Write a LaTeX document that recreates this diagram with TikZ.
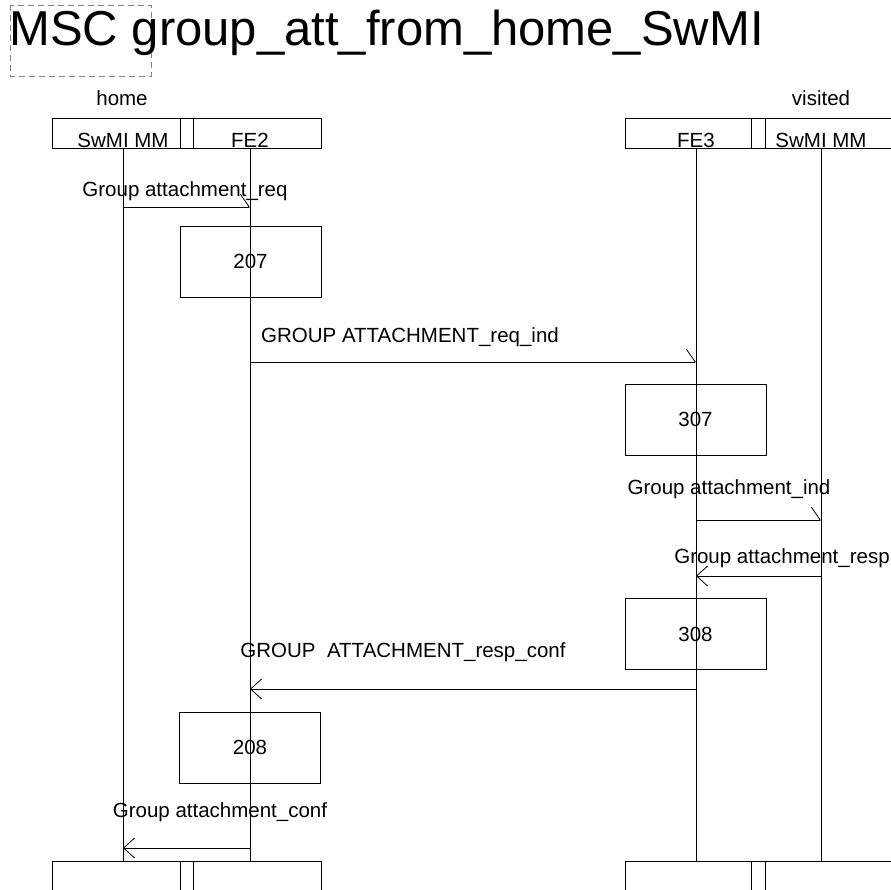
\documentclass[tikz,border=0pt]{standalone}
\usepackage{fontspec}
\setmainfont{Liberation Sans}
\usetikzlibrary{arrows.meta}
\tikzset{
  action/.style={draw, minimum width=141pt, minimum height=71pt, inner sep=0},
  msgr/.style={-{Straight Barb[left, length=9pt, width=26pt]}},
  msgl/.style={-{Straight Barb[length=11pt, width=20pt]}},
  lbl/.style={anchor=base, inner sep=0}
}

\begin{document}
\begin{tikzpicture}[x=1pt, y=-1pt, line width=0.8pt, font=\fontsize{20.5}{25}\selectfont]
  \useasboundingbox (0,0) rectangle (891,890);
  % Title
  \draw[gray, dash pattern=on 6pt off 4pt] (10,5) rectangle (151,76);
  \node[anchor=base west, inner sep=0, font=\fontsize{49}{58}\selectfont] (title) at (9,46) {MSC group\_att\_from\_home\_SwMI};
  % Instance heads
  \node (home) at (122,98) {home};
  \node (visited) at (821,98) {visited};
  \draw (52,118) rectangle (321,148) (180,118) rectangle (193,148);
  \draw (625,118) rectangle (895,148) (751,118) rectangle (765,148);
  \coordinate (swmi) at (123,148);
  \coordinate (fe2) at (250,148);
  \coordinate (fe3) at (696,148);
  \coordinate (swmiv) at (821,148);
  \node[lbl] (nswmi) at (swmi) {SwMI MM};
  \node[lbl] (nfe2) at (fe2) {FE2};
  \node[lbl] (nfe3) at (fe3) {FE3};
  \node[lbl] (nswmiv) at (swmiv) {SwMI MM};
  % Instance ends
  \draw (52,861) rectangle (321,895) (180,861) rectangle (193,895);
  \draw (625,861) rectangle (895,895) (751,861) rectangle (765,895);
  \foreach \l in {swmi,fe2,fe3,swmiv}
    \draw (\l) -- (\l |- 0,861);
  % Actions
  \node[action] (a207) at (250.5,261.5) {207};
  \node[action] (a307) at (695.5,419.5) {307};
  \node[action] (a308) at (695.5,634) {308};
  \node[action] (a208) at (250,747.5) {208};
  % Messages
  \draw[msgr] (swmi |- 0,207) -- (fe2 |- 0,207);
  \node[lbl] (m1) at (185,197) {Group attachment\_req};
  \draw[msgr] (fe2 |- 0,362) -- (fe3 |- 0,362);
  \node[lbl] (m2) at (410,342) {GROUP ATTACHMENT\_req\_ind};
  \draw[msgr] (fe3 |- 0,520) -- (swmiv |- 0,520);
  \node[lbl] (m3) at (729,494) {Group attachment\_ind};
  \draw[msgl] (swmiv |- 0,576) -- (fe3 |- 0,576);
  \node[lbl] (m4) at (782,563) {Group attachment\_resp};
  \draw[msgl] (fe3 |- 0,689) -- (fe2 |- 0,689);
  \node[lbl] (m5) at (403,657) {GROUP\ \ ATTACHMENT\_resp\_conf};
  \draw[msgl] (fe2 |- 0,848) -- (swmi |- 0,848);
  \node[lbl] (m6) at (220,817) {Group attachment\_conf};
\end{tikzpicture}
\end{document}
